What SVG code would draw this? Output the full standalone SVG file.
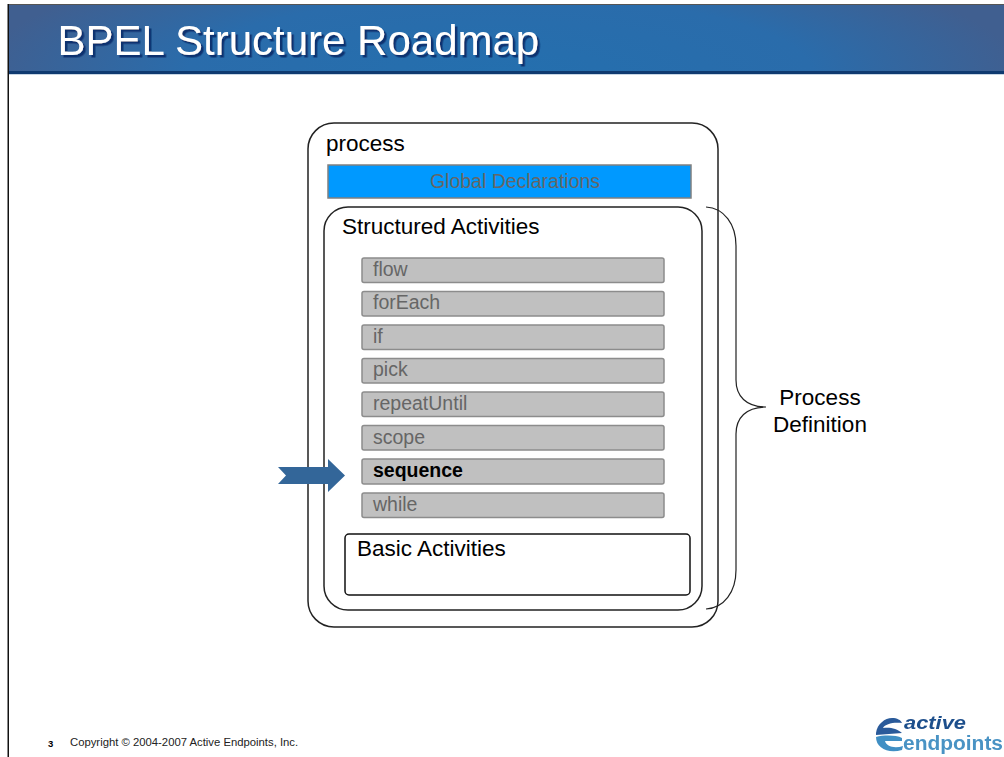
<svg xmlns="http://www.w3.org/2000/svg" width="1004" height="757" viewBox="0 0 1004 757">
<style>
text{font-family:"Liberation Sans",Arial,sans-serif}
.frame{fill:#fff;stroke:#222;stroke-width:1.5}
.item rect{fill:#c0c0c0;stroke:#8c8c8c;stroke-width:1.5}
.item text{font-size:19.500px;fill:#666}
.lbl{font-size:22.500px;fill:#000}
</style>
<defs>
<radialGradient id="hdr" gradientUnits="userSpaceOnUse" cx="500" cy="74" r="520" gradientTransform="translate(0 55) scale(1 .25)">
<stop offset="0" stop-color="#246fae"/><stop offset=".6" stop-color="#2a6cab"/><stop offset="1" stop-color="#405f90"/>
</radialGradient>
<filter id="blur" x="-5%" y="-5%" width="110%" height="110%"><feGaussianBlur stdDeviation=".4"/></filter>
<filter id="shadow" x="-5%" y="-10%" width="110%" height="130%"><feDropShadow dx="2.500" dy="2.500" stdDeviation="0.300" flood-color="#0c3070"/></filter>
</defs>
<rect width="1004" height="757" fill="#fff"/>
<g id="slide-frame">
<rect x="8" y="4" width="996" height="70" fill="url(#hdr)"/>
<rect x="8" y="4" width="996" height="1" fill="#555"/>
<rect x="8" y="71" width="996" height="3" fill="#0f3a70"/>
<rect x="8" y="74" width="996" height="1" fill="#c8d6e4"/>
<rect x="7.500" y="4" width="1.500" height="753" fill="#111"/>
<text x="57.500" y="55" font-size="42" fill="#fff" filter="url(#shadow)">BPEL Structure Roadmap</text>
</g>
<g id="process">
<rect class="frame" x="308" y="123" width="410" height="504" rx="26"/>
<text class="lbl" x="326" y="151">process</text>
</g>
<g id="global-declarations">
<rect x="328" y="165" width="363" height="33" fill="#0099ff" stroke="#808080" stroke-width="1.500"/>
<text x="515" y="188" font-size="19.500" fill="#666" text-anchor="middle">Global Declarations</text>
</g>
<g id="structured-activities">
<rect class="frame" x="324" y="207" width="378" height="403" rx="24"/>
<text class="lbl" x="342" y="234">Structured Activities</text>
</g>
<g id="flow" class="item"><rect x="362" y="258" width="302" height="24.500" rx="2"/><text x="373" y="275.500">flow</text></g>
<g id="forEach" class="item"><rect x="362" y="291.500" width="302" height="24.500" rx="2"/><text x="373" y="309">forEach</text></g>
<g id="if" class="item"><rect x="362" y="325" width="302" height="24.500" rx="2"/><text x="373" y="342.500">if</text></g>
<g id="pick" class="item"><rect x="362" y="358.500" width="302" height="24.500" rx="2"/><text x="373" y="376">pick</text></g>
<g id="repeatUntil" class="item"><rect x="362" y="392" width="302" height="24.500" rx="2"/><text x="373" y="410">repeatUntil</text></g>
<g id="scope" class="item"><rect x="362" y="425.500" width="302" height="24.500" rx="2"/><text x="373" y="444">scope</text></g>
<g id="sequence" class="item"><rect x="362" y="459" width="302" height="25" rx="2"/><text x="373" y="477" style="font-weight:bold;fill:#000">sequence</text></g>
<g id="while" class="item"><rect x="362" y="493" width="302" height="24.500" rx="2"/><text x="373" y="511">while</text></g>
<g id="basic-activities">
<rect x="345" y="534" width="345" height="61" rx="4" fill="#fff" stroke="#111" stroke-width="1.500"/>
<text class="lbl" x="357" y="556">Basic Activities</text>
</g>
<g id="connectors">
<path d="M706 207C724 208 736 224 736 246V380C736 396 746 407 766 407C746 407 736 418 736 434V570C736 592 724 608 706 609" fill="none" stroke="#222" stroke-width="1.200"/>
<path d="M278 467H328V459L345 475.500L328 492V484H278L286 475.500Z" fill="#336699"/>
</g>
<g id="process-definition">
<text class="lbl" x="820" y="405" text-anchor="middle">Process</text>
<text class="lbl" x="820" y="432" text-anchor="middle">Definition</text>
</g>
<g id="footer">
<text x="48" y="747" font-size="9.500" font-weight="bold" fill="#000">3</text>
<text x="70" y="746" font-size="11.300" fill="#222">Copyright © 2004-2007 Active Endpoints, Inc.</text>
</g>
<g id="logo" filter="url(#blur)">
<path d="M876 733C877 724 885 718 892 718C897 718 901 720 902 723C893 722 885 724 883 728C889 727 897 728 902 733L876 735Z" fill="#2a5a9a"/>
<path d="M876 737C884 735 896 735 902 738V741H885C886 746 894 749 903 746L902 750C888 754 876 748 876 737Z" fill="#3f8fc4"/>
<text x="904" y="729" font-size="19" font-weight="bold" font-style="italic" fill="#1f4f8c" textLength="62" lengthAdjust="spacingAndGlyphs">active</text>
<text x="903" y="750" font-size="20" font-weight="bold" fill="#4a93c4" textLength="100" lengthAdjust="spacingAndGlyphs">endpoints</text>
</g>
</svg>
